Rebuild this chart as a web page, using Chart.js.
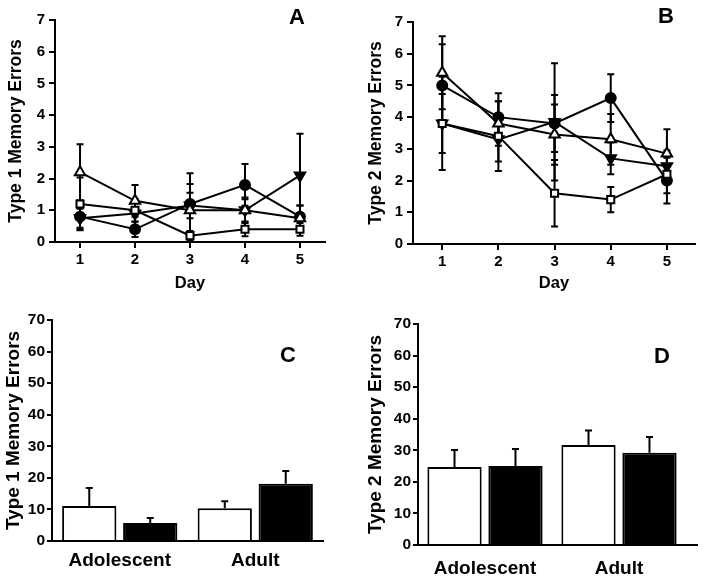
<!DOCTYPE html>
<html><head><meta charset="utf-8">
<script src="https://cdn.jsdelivr.net/npm/chart.js@4.4.1/dist/chart.umd.min.js"></script>
<style>
html,body{margin:0;padding:0;background:#fff;}
#wrap{position:relative;width:703px;height:577px;overflow:hidden;background:#fff;}
.pane{position:absolute;}
.pane canvas{display:block;}
.letter{position:absolute;font:bold 22px "Liberation Sans",Arial,sans-serif;line-height:22px;color:#000;transform:translate(-50%,-50%);}
</style></head><body>
<div id="wrap">
  <div class="pane" style="left:0;top:0;"><canvas id="cA" width="350" height="300"></canvas></div>
  <div class="pane" style="left:350px;top:0;"><canvas id="cB" width="353" height="300"></canvas></div>
  <div class="pane" style="left:0;top:300px;"><canvas id="cC" width="350" height="277"></canvas></div>
  <div class="pane" style="left:350px;top:300px;"><canvas id="cD" width="353" height="277"></canvas></div>
  <div class="letter" style="left:297px;top:17px;">A</div>
  <div class="letter" style="left:666px;top:16px;">B</div>
  <div class="letter" style="left:288px;top:355px;">C</div>
  <div class="letter" style="left:662px;top:356px;">D</div>
</div>
<script>
// ---------- DATA ----------
const days = [1, 2, 3, 4, 5];

// Panel A : Type 1 memory errors per day (mean, SEM)
const aOpenTri     = [2.2, 1.3, 1.0, 1.0, 0.75];
const aOpenTriErr  = [0.88, 0.5, 0.83, 0.4, 0.4];
const aOpenSq      = [1.2, 1.0, 0.2, 0.4, 0.4];
const aOpenSqErr   = [0.83, 0.35, 0.15, 0.22, 0.2];
const aCircle      = [0.8, 0.4, 1.2, 1.8, 0.8];
const aCircleErr   = [0.4, 0.24, 0.97, 0.66, 0.35];
const aInvTri      = [0.75, 0.9, 1.15, 1.0, 2.1];
const aInvTriErr   = [0.3, 0.4, 0.4, 0.35, 1.31];

// Panel B : Type 2 memory errors per day (mean, SEM)
const bOpenTri     = [5.4, 3.8, 3.45, 3.3, 2.85];
const bOpenTriErr  = [1.15, 0.7, 0.95, 0.8, 0.77];
const bOpenSq      = [3.8, 3.4, 1.6, 1.4, 2.2];
const bOpenSqErr   = [1.47, 1.1, 1.05, 0.4, 0.6];
const bCircle      = [5.0, 4.0, 3.8, 4.6, 2.0];
const bCircleErr   = [1.3, 0.75, 0.9, 0.75, 0.72];
const bInvTri      = [3.8, 3.3, 3.85, 2.7, 2.45];
const bInvTriErr   = [0.93, 0.7, 1.85, 0.5, 0.5];

// Panels C and D : totals
const ageGroups    = ['Adolescent', 'Adult'];
const cWhite       = [11.1, 10.4];
const cWhiteErr    = [5.7, 2.2];
const cBlack       = [5.7, 18.1];
const cBlackErr    = [1.6, 4.1];
const dWhite       = [24.7, 31.7];
const dWhiteErr    = [5.4, 4.6];
const dBlack       = [25.0, 29.2];
const dBlackErr    = [5.4, 5.0];

const dayTicks = [1, 2, 3, 4, 5];
const yTicksLine = [0, 7, 1];   // min, max, step
const yTicksBar  = [0, 70, 10];

// ---------- STYLE ----------
const FAM = '"Liberation Sans", Arial, Helvetica, sans-serif';
Chart.defaults.font.family = FAM;
Chart.defaults.font.weight = 'bold';
Chart.defaults.color = '#000';

const errPlugin = {
  id: 'errbars',
  beforeDatasetsDraw(chart) {
    if (chart.config.type !== 'line') return;
    drawErr(chart, false);
  },
  afterDatasetsDraw(chart) {
    if (chart.config.type !== 'bar') return;
    drawErr(chart, true);
  }
};
function drawErr(chart, upOnly) {
  const ctx = chart.ctx, ys = chart.scales.y;
  ctx.save();
  ctx.strokeStyle = '#000';
  ctx.lineWidth = 2;
  chart.data.datasets.forEach((ds, di) => {
    const meta = chart.getDatasetMeta(di);
    if (!ds.errors) return;
    meta.data.forEach((el, i) => {
      const v = upOnly ? ds.data[i] : ds.data[i].y;
      const e = ds.errors[i];
      const x = el.x;
      const yHi = ys.getPixelForValue(v + e);
      const yLo = upOnly ? ys.getPixelForValue(v) : ys.getPixelForValue(Math.max(v - e, 0));
      ctx.beginPath();
      ctx.moveTo(x, yHi); ctx.lineTo(x, yLo);
      ctx.moveTo(x - 3.5, yHi); ctx.lineTo(x + 3.5, yHi);
      if (!upOnly) { ctx.moveTo(x - 3.5, yLo); ctx.lineTo(x + 3.5, yLo); }
      ctx.stroke();
    });
  });
  ctx.restore();
}
const axisExtend = {
  id: 'axisExtend',
  afterDraw(chart, args, opts) {
    if (!opts || !opts.extra) return;
    const ctx = chart.ctx, a = chart.chartArea;
    const y = Math.round(chart.scales.x.top);
    ctx.save();
    ctx.strokeStyle = '#000'; ctx.lineWidth = 2;
    ctx.beginPath();
    ctx.moveTo(a.right - 2, y); ctx.lineTo(a.right + opts.extra, y);
    ctx.stroke();
    ctx.restore();
  }
};

function pts(vals) { return days.map((d, i) => ({ x: d, y: vals[i] })); }
function lineDs(label, vals, errs, style, fill, rot, r) {
  return {
    label, data: pts(vals), errors: errs,
    borderColor: '#000', borderWidth: 2, tension: 0,
    pointStyle: style, pointRotation: rot, pointRadius: r, pointHoverRadius: r,
    pointBackgroundColor: fill, pointBorderColor: '#000', pointBorderWidth: 2,
    fill: false
  };
}

function lineChart(id, yTitle, sets, g) {
  new Chart(document.getElementById(id), {
    type: 'line',
    data: { datasets: sets },
    plugins: [errPlugin],
    options: {
      responsive: false, animation: false, events: [],
      layout: { padding: { left: g.pl, top: g.pt, right: g.pr, bottom: g.pb } },
      plugins: { legend: { display: false }, tooltip: { enabled: false } },
      scales: {
        x: {
          type: 'linear', min: g.xmin, max: g.xmax,
          afterBuildTicks: s => { s.ticks = dayTicks.map(v => ({ value: v })); },
          afterFit: s => { s.height = g.xh; },
          grid: { drawOnChartArea: false, drawTicks: true, tickLength: 6, color: '#000', lineWidth: 2 },
          border: { display: true, color: '#000', width: 2 },
          ticks: { font: { size: 15, weight: 'bold' }, padding: 3, maxRotation: 0, color: '#000' },
          title: { display: true, text: 'Day', font: { size: 16.5, weight: 'bold' }, padding: { top: 0, bottom: 3 }, color: '#000' }
        },
        y: {
          min: yTicksLine[0], max: yTicksLine[1],
          afterFit: s => { s.width = g.yw; },
          grid: { drawOnChartArea: false, drawTicks: true, tickLength: 6, color: '#000', lineWidth: 2 },
          border: { display: true, color: '#000', width: 2 },
          ticks: { stepSize: yTicksLine[2], font: { size: 15, weight: 'bold' }, padding: 4, color: '#000' },
          title: { display: true, text: yTitle, font: { size: g.tf, weight: 'bold' }, padding: { top: g.tp, bottom: 0 }, color: '#000' }
        }
      }
    }
  });
}

function barChart(id, yTitle, white, whiteErr, black, blackErr, g) {
  new Chart(document.getElementById(id), {
    type: 'bar',
    data: {
      labels: ageGroups,
      datasets: [
        { label: 'White', data: white, errors: whiteErr, backgroundColor: '#fff', borderColor: '#000', borderWidth: 2, borderSkipped: 'bottom', categoryPercentage: g.cp, barPercentage: 0.89 },
        { label: 'Black', data: black, errors: blackErr, backgroundColor: '#000', borderColor: '#000', borderWidth: 2, borderSkipped: 'bottom', categoryPercentage: g.cp, barPercentage: 0.89 }
      ]
    },
    plugins: [errPlugin, axisExtend],
    options: {
      responsive: false, animation: false, events: [],
      layout: { padding: { left: g.pl, top: g.pt, right: g.pr, bottom: g.pb } },
      plugins: { legend: { display: false }, tooltip: { enabled: false }, axisExtend: { extra: g.ext } },
      scales: {
        x: {
          afterFit: s => { s.height = g.xh; },
          grid: { display: false, drawTicks: false },
          border: { display: true, color: '#000', width: 2 },
          ticks: { font: { size: 19, weight: 'bold' }, padding: g.xpad, color: '#000', maxRotation: 0 }
        },
        y: {
          min: yTicksBar[0], max: yTicksBar[1],
          afterFit: s => { s.width = g.yw; },
          grid: { drawOnChartArea: false, drawTicks: true, tickLength: 5, color: '#000', lineWidth: 2 },
          border: { display: true, color: '#000', width: 2 },
          ticks: { stepSize: yTicksBar[2], font: { size: 15.5, weight: 'bold' }, padding: 2, color: '#000' },
          title: { display: true, text: yTitle, font: { size: 19, weight: 'bold' }, padding: { top: g.tp, bottom: 0 }, color: '#000' }
        }
      }
    }
  });
}

lineChart('cA', 'Type 1 Memory Errors', [
  lineDs('Group 1', aOpenTri, aOpenTriErr, 'triangle', '#fff', 0, 6),
  lineDs('Group 2', aOpenSq, aOpenSqErr, 'rect', '#fff', 0, 5),
  lineDs('Group 3', aCircle, aCircleErr, 'circle', '#000', 0, 5),
  lineDs('Group 4', aInvTri, aInvTriErr, 'triangle', '#000', 180, 6)
], { pl: 0, pt: 20, pr: 25, pb: 4, xh: 54, yw: 55, xmin: 0.545, xmax: 5.455, tf: 17.5, tp: 6 });

lineChart('cB', 'Type 2 Memory Errors', [
  lineDs('Group 1', bOpenTri, bOpenTriErr, 'triangle', '#fff', 0, 6),
  lineDs('Group 2', bOpenSq, bOpenSqErr, 'rect', '#fff', 0, 5),
  lineDs('Group 3', bCircle, bCircleErr, 'circle', '#000', 0, 5),
  lineDs('Group 4', bInvTri, bInvTriErr, 'triangle', '#000', 180, 6)
], { pl: 0, pt: 22, pr: 6, pb: 4, xh: 52, yw: 63, xmin: 0.48, xmax: 5.5, tf: 17.5, tp: 16 });

barChart('cC', 'Type 1 Memory Errors', cWhite, cWhiteErr, cBlack, cBlackErr,
  { pl: 0, pt: 20, pr: 27, pb: 2, xh: 34, yw: 52, cp: 0.9, xpad: 8, tp: 2, ext: 0 });

barChart('cD', 'Type 2 Memory Errors', dWhite, dWhiteErr, dBlack, dBlackErr,
  { pl: 0, pt: 24, pr: 17, pb: 0, xh: 32, yw: 68, cp: 0.91, xpad: 12, tp: 14, ext: 12 });
</script>
</body></html>
